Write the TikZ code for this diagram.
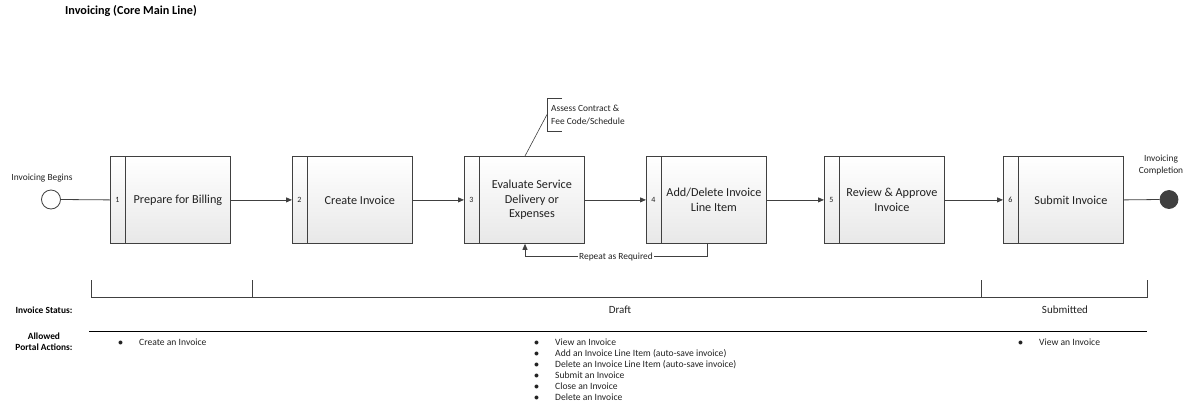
\documentclass[tikz,border=0pt]{standalone}
\usepackage{fontspec}
\setmainfont{Carlito}
\usetikzlibrary{arrows.meta,calc}
\definecolor{boxline}{HTML}{404040}
\definecolor{txt}{HTML}{222222}
\begin{document}
\begin{tikzpicture}[x=1pt,y=-1pt,
  proc/.style={draw=boxline, line width=0.8pt, top color=white, bottom color=black!9,
    minimum width=120pt, minimum height=87pt, inner sep=0pt, anchor=north west},
  ptext/.style={font=\fontsize{12.2}{14.7}\selectfont, text=txt, align=center, inner sep=0pt},
  pnum/.style={font=\fontsize{8}{9}\selectfont, text=txt, inner sep=0pt},
  small/.style={font=\fontsize{9.4}{11.7}\selectfont, text=txt, inner sep=0pt},
  lbl/.style={font=\bfseries\fontsize{9.4}{11.7}\selectfont, text=black, inner sep=0pt, align=center},
  conn/.style={draw=boxline, line width=0.8pt},
  arr/.style={conn, -{Triangle[length=6pt,width=5pt]}},
  listtxt/.style={font=\fontsize{9.6}{11}\selectfont, text=txt, inner sep=0pt, anchor=base west},
  bul/.style={font=\fontsize{9.6}{11}\selectfont, text=txt, inner sep=0pt, anchor=base}
]
\useasboundingbox (0,0) rectangle (1192,413);

% title
\node[font=\bfseries\fontsize{12.2}{14}\selectfont, anchor=west, inner sep=0pt] (title) at (65,11) {Invoicing (Core Main Line)};

% start / end events
\node[circle, draw=boxline, line width=0.8pt, fill=white, minimum size=19pt, inner sep=0pt] (s) at (51,199.5) {};
\node[small] (sl) at (42,178) {Invoicing Begins};
\node[circle, draw=boxline, fill=black!75, line width=0.8pt, minimum size=18pt, inner sep=0pt] (e) at (1169,199.5) {};
\node[small, align=center] (el) at (1161,165) {Invoicing\\Completion};

% process boxes
\foreach \i/\x/\t in {1/110/{Prepare for Billing},2/292/{Create Invoice},3/464/{Evaluate Service\\Delivery or\\Expenses},4/646/{Add/Delete Invoice\\Line Item},5/824/{Review \& Approve\\Invoice},6/1003/{Submit Invoice}}{
  \node[proc] (b\i) at (\x,156) {};
  \draw[conn] ($(b\i.north west)+(15,0)$) -- ($(b\i.south west)+(15,0)$);
  \node[pnum] (n\i) at ($(b\i.west)+(7.5,0)$) {\i};
  \node[ptext] (t\i) at ($(b\i.center)+(7.5,0)$) {\t};
}

% connectors
\draw[conn] (s.east) -- (b1.west);
\draw[arr] (b1.east) -- (b2.west);
\draw[arr] (b2.east) -- (b3.west);
\draw[arr] (b3.east) -- (b4.west);
\draw[arr] (b4.east) -- (b5.west);
\draw[arr] (b5.east) -- (b6.west);
\draw[conn] (b6.east) -- (e.west);

% repeat loop
\coordinate (r4) at ($(b4.south west)+(61,0)$);
\coordinate (r3) at ($(b3.south west)+(61,0)$);
\draw[arr] (r4) -- ($(r4)+(0,13)$) -- node[small, fill=white, inner xsep=1pt] (rl) {Repeat as Required} ($(r3)+(0,13)$) -- (r3);

% annotation
\coordinate (ann) at (547,114.5);
\coordinate (a3) at ($(b3.north west)+(61,0)$);
\draw[conn, line width=0.6pt] (562,98) -- (547,98) -- (547,131) -- (562,131);
\draw[conn, line width=0.6pt] (ann) -- (a3);
\node[small, align=left, anchor=west, font=\fontsize{9.4}{12.2}\selectfont] (at) at (551,115) {Assess Contract \&\\Fee Code/Schedule};

% status bracket
\draw[conn, line width=0.7pt] (91,280) -- (91,297) -- (1147,297) -- (1147,280);
\draw[conn, line width=0.7pt] (252,280) -- (252,297);
\draw[conn, line width=0.7pt] (981,280) -- (981,297);

\node[lbl] (st) at (44,310) {Invoice Status:};
\node[font=\fontsize{11}{13}\selectfont, text=txt, inner sep=0pt] (draft) at (620,310) {Draft};
\node[font=\fontsize{11}{13}\selectfont, text=txt, inner sep=0pt] (sub) at (1065,310) {Submitted};

\draw[black, line width=1pt] (89,331) -- (1147,331);

\node[lbl] (pa) at (44,341.7) {Allowed\\Portal Actions:};

% lists
\node[bul] at (120.5,345.2) {$\bullet$};
\node[listtxt] at (139,345.2) {Create an Invoice};

\foreach \k/\t in {0/{View an Invoice},1/{Add an Invoice Line Item (auto-save invoice)},2/{Delete an Invoice Line Item (auto-save invoice)},3/{Submit an Invoice},4/{Close an Invoice},5/{Delete an Invoice}}{
  \node[bul] at (536.5,345.7+11*\k) {$\bullet$};
  \node[listtxt] at (555,345.7+11*\k) {\t};
}

\node[bul] at (1020.5,345.2) {$\bullet$};
\node[listtxt] at (1039,345.2) {View an Invoice};
\end{tikzpicture}
\end{document}
